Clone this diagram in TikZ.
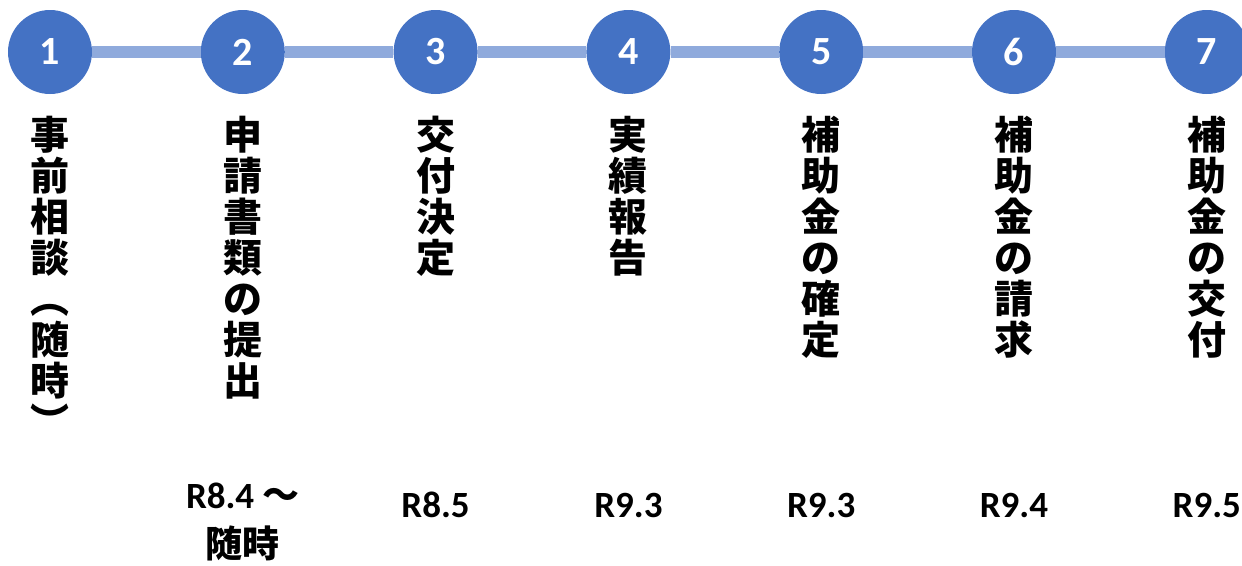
\documentclass[tikz,border=0pt]{standalone}
\usepackage{fontspec}
\setmainfont{Carlito}
\newfontfamily\jpfont{Noto Sans CJK JP}
\definecolor{dotblue}{HTML}{4472C4}
\definecolor{lineblue}{HTML}{8FAADC}
\begin{document}
\begin{tikzpicture}[x=1pt,y=-1pt,
  dot/.style={circle,fill=dotblue,minimum size=84pt,inner sep=0pt,text=white,
    font=\fontsize{40}{40}\selectfont\bfseries},
  link/.style={lineblue,line width=12pt},
  vlabel/.style={anchor=north,align=center,inner sep=0pt,
    font=\fontsize{39}{41}\selectfont\jpfont\bfseries},
  datelabel/.style={anchor=north,align=center,inner sep=0pt,
    font=\fontsize{37}{49}\selectfont\bfseries,
    execute at begin node={\rule{0pt}{34pt}}}]
\useasboundingbox (0,0) rectangle (1242,565);
\clip (0,0) rectangle (1242,565);

% steps
\foreach \i in {1,...,7}
  \node[dot] (c\i) at ({50+192.8*(\i-1)},52) {\i};
\foreach \i/\j in {1/2,2/3,3/4,4/5,5/6,6/7}
  \draw[link] (c\i) -- (c\j);

% vertical labels
\foreach \i/\t in {1/{事\\前\\相\\談\\︵\\随\\時\\︶},2/{申\\請\\書\\類\\の\\提\\出},
    3/{交\\付\\決\\定},4/{実\\績\\報\\告},5/{補\\助\\金\\の\\確\\定},
    6/{補\\助\\金\\の\\請\\求},7/{補\\助\\金\\の\\交\\付}}
  \node[vlabel] (s\i) at ({50+192.8*(\i-1)},116) {\t};

% dates
\foreach \i/\t in {2/{R8.4 {\jpfont ～}\\{\jpfont 随時}},3/R8.5,4/R9.3,5/R9.3,6/R9.4,7/R9.5}
  \node[datelabel] (d\i) at ({50+192.8*(\i-1)},483) {\t};

\end{tikzpicture}
\end{document}
